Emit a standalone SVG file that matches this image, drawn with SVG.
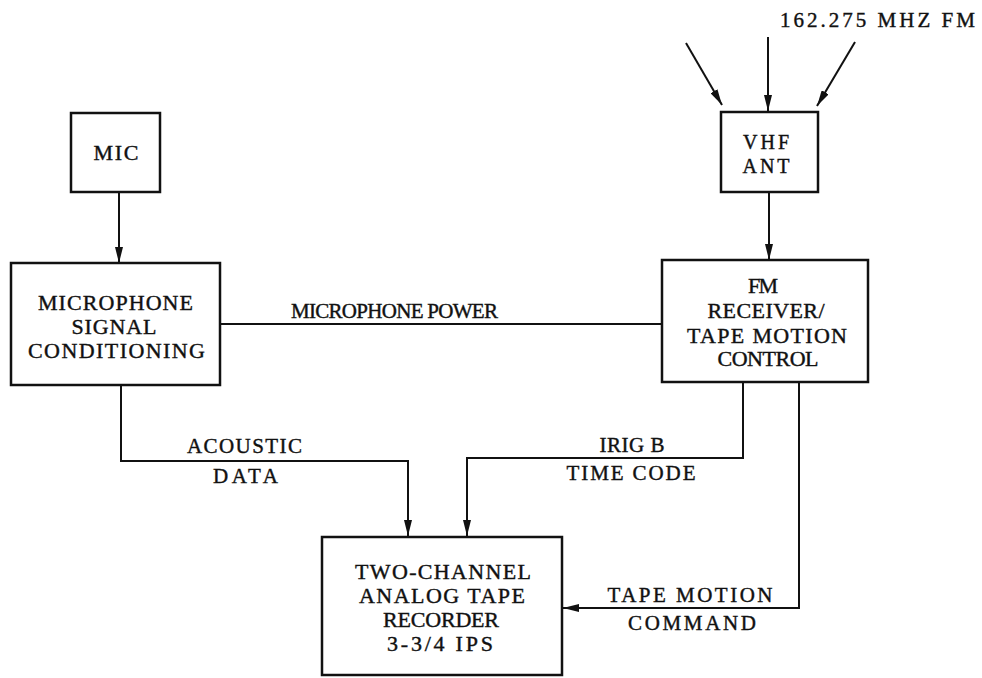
<svg xmlns="http://www.w3.org/2000/svg" width="982" height="678" viewBox="0 0 982 678">
<defs>
<style>
.box{fill:#fff;stroke:#111;stroke-width:2.5}
.ln{fill:none;stroke:#111;stroke-width:2}
text{font-family:"Liberation Serif","Times New Roman",serif;fill:#111;stroke:#111;stroke-width:0.4;text-anchor:middle;font-size:22px}
.lbl{font-size:21px}
.sm{font-size:20px}
</style>
<marker id="ah" viewBox="0 0 16 8" refX="16" refY="4" markerWidth="16" markerHeight="8" markerUnits="userSpaceOnUse" orient="auto">
<path d="M0,0 L16,4 L0,8 Z" fill="#111"/>
</marker>
</defs>
<rect width="982" height="678" fill="#fff"/>
<g id="connectors">
<line class="ln" x1="119" y1="192" x2="119" y2="263" marker-end="url(#ah)"/>
<line class="ln" x1="220" y1="324" x2="662" y2="324"/>
<line class="ln" x1="686" y1="43" x2="722" y2="105" marker-end="url(#ah)"/>
<line class="ln" x1="768" y1="37" x2="768" y2="111" marker-end="url(#ah)"/>
<line class="ln" x1="855" y1="42" x2="817" y2="106" marker-end="url(#ah)"/>
<line class="ln" x1="769" y1="192" x2="769" y2="260" marker-end="url(#ah)"/>
<polyline class="ln" points="121,385 121,461 408,461 408,536" marker-end="url(#ah)"/>
<polyline class="ln" points="743,382 743,458 467,458 467,536" marker-end="url(#ah)"/>
<polyline class="ln" points="799,382 799,608 563,608" marker-end="url(#ah)"/>
</g>
<g id="mic">
<rect class="box" x="71" y="113" width="89" height="79"/>
<text x="116" y="160" textLength="45">MIC</text>
</g>
<g id="msc">
<rect class="box" x="11" y="263" width="209" height="122"/>
<text x="115.5" y="310" textLength="155">MICROPHONE</text>
<text x="114" y="334" textLength="85">SIGNAL</text>
<text x="116.5" y="358" textLength="177">CONDITIONING</text>
</g>
<g id="vhf">
<rect class="box" x="721" y="112" width="97" height="80"/>
<text class="sm" x="766" y="149" textLength="46">VHF</text>
<text class="sm" x="766" y="173" textLength="47">ANT</text>
</g>
<g id="fm">
<rect class="box" x="662" y="260" width="206" height="122"/>
<text x="763" y="293" textLength="30">FM</text>
<text x="766" y="318" textLength="117">RECEIVER/</text>
<text x="767" y="343" textLength="160">TAPE MOTION</text>
<text x="768" y="366" textLength="101">CONTROL</text>
</g>
<g id="recorder">
<rect class="box" x="322" y="537" width="240" height="138"/>
<text x="443" y="579" textLength="176">TWO-CHANNEL</text>
<text x="442" y="603" textLength="166">ANALOG TAPE</text>
<text x="441" y="627" textLength="116">RECORDER</text>
<text x="440" y="651" textLength="106">3-3/4 IPS</text>
</g>
<g id="labels">
<text class="lbl" x="877.5" y="27" textLength="195">162.275 MHZ FM</text>
<text class="lbl" x="394.5" y="318" textLength="207">MICROPHONE POWER</text>
<text class="lbl" x="244.5" y="453" textLength="115">ACOUSTIC</text>
<text class="lbl" x="245.5" y="483" textLength="65">DATA</text>
<text class="lbl" x="632" y="452" textLength="65">IRIG B</text>
<text class="lbl" x="631" y="480" textLength="129">TIME CODE</text>
<text class="lbl" x="690" y="602" textLength="165">TAPE MOTION</text>
<text class="lbl" x="692" y="630" textLength="128">COMMAND</text>
</g>
</svg>
